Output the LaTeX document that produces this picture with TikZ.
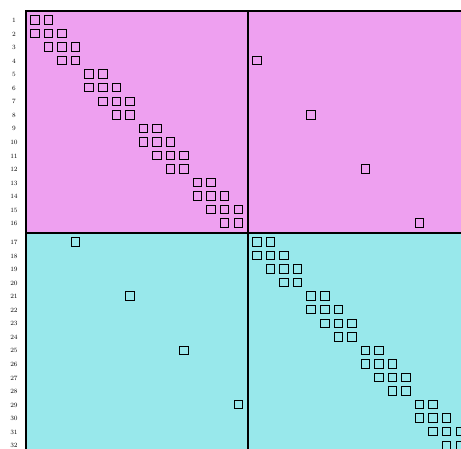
\documentclass[tikz,border=0pt]{standalone}
\usetikzlibrary{positioning}
\definecolor{blockpink}{RGB}{238,160,240}
\definecolor{blockcyan}{RGB}{152,232,235}

\begin{document}
\begin{tikzpicture}[
    x=1pt, y=-1pt,
    declare function={cy(\k)=20+(\k-1)*13.55+(\k>16)*5.2; cx(\k)=cy(\k)+15;},
    entry/.style={draw, line width=1pt, minimum size=8.5pt, inner sep=0pt},
    rowlbl/.style={font=\fontsize{6.5}{7}\selectfont, inner sep=0pt},
    frame/.style={line width=1.5pt}
  ]
    \useasboundingbox (0,0) rectangle (461,449);
    \clip (0,0) rectangle (461,449);

    % blocks
    \fill[blockpink] (26,11) rectangle (470,233);
    \fill[blockcyan] (26,233) rectangle (470,455);
    \draw[frame] (26,455) -- (26,11) -- (470,11);
    \draw[frame] (26,233) -- (470,233);
    \draw[frame] (248,11) -- (248,455);

    % row numbers
    \foreach \k in {1,...,32}
      \node[rowlbl] (r\k) at (14,{cy(\k)+0.5}) {\k};

    % diagonal blocks
    \foreach \b in {0,...,7}
      \foreach \r/\c in {1/1,1/2,2/1,2/2,2/3,3/2,3/3,3/4,4/3,4/4} {
        \pgfmathtruncatemacro\i{4*\b+\r}
        \pgfmathtruncatemacro\j{4*\b+\c}
        \node[entry] (e-\i-\j) at ({cx(\j)},{cy(\i)}) {};
      }

    % coupling entries
    \foreach \i/\j in {4/17,8/21,12/25,16/29,17/4,21/8,25/12,29/16}
      \node[entry] (e-\i-\j) at ({cx(\j)},{cy(\i)}) {};
  \end{tikzpicture}
\end{document}
